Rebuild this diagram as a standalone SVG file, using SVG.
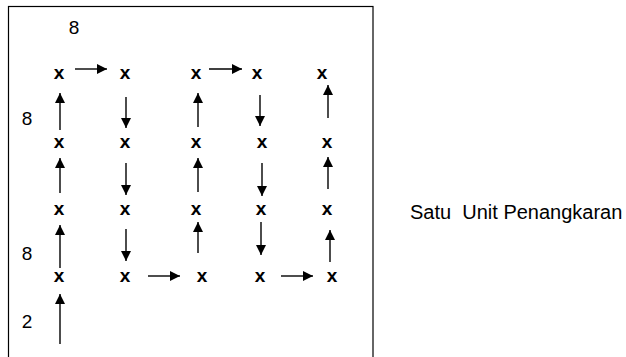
<svg xmlns="http://www.w3.org/2000/svg" width="626" height="357" viewBox="0 0 626 357">
<style>
.x{font-family:"Liberation Sans",Arial,sans-serif;font-weight:bold;font-size:19px;text-anchor:middle}
.n{font-family:"Liberation Sans",Arial,sans-serif;font-size:19px;text-anchor:middle}
.t{font-family:"Liberation Sans",Arial,sans-serif;font-size:20px;white-space:pre}
.c line{stroke:#000;stroke-width:1.4;marker-end:url(#ah)}
</style>
<defs>
<marker id="ah" viewBox="0 0 10 10" refX="10" refY="5" markerUnits="userSpaceOnUse" markerWidth="11" markerHeight="10" orient="auto">
<path d="M0,0 L10,5 L0,10 Z" fill="#000"/>
</marker>
</defs>
<rect x="8.5" y="6.5" width="364.5" height="360" fill="none" stroke="#000" stroke-width="1.2"/>
<g id="labels">
<text class="n" x="74" y="34">8</text>
<text class="n" x="27" y="125">8</text>
<text class="n" x="27" y="260">8</text>
<text class="n" x="27" y="328">2</text>
<text class="t" x="410" y="219">Satu  Unit Penangkaran</text>
</g>
<g id="nodes">
<g id="r1c1"><text class="x" x="59" y="79">x</text></g>
<g id="r1c2"><text class="x" x="125" y="79">x</text></g>
<g id="r1c3"><text class="x" x="196" y="79">x</text></g>
<g id="r1c4"><text class="x" x="257" y="79">x</text></g>
<g id="r1c5"><text class="x" x="322" y="79">x</text></g>
<g id="r2c1"><text class="x" x="59" y="148">x</text></g>
<g id="r2c2"><text class="x" x="125" y="148">x</text></g>
<g id="r2c3"><text class="x" x="196" y="148">x</text></g>
<g id="r2c4"><text class="x" x="262" y="148">x</text></g>
<g id="r2c5"><text class="x" x="327" y="148">x</text></g>
<g id="r3c1"><text class="x" x="59" y="215">x</text></g>
<g id="r3c2"><text class="x" x="125" y="215">x</text></g>
<g id="r3c3"><text class="x" x="196" y="215">x</text></g>
<g id="r3c4"><text class="x" x="261" y="215">x</text></g>
<g id="r3c5"><text class="x" x="327" y="215">x</text></g>
<g id="r4c1"><text class="x" x="59" y="282">x</text></g>
<g id="r4c2"><text class="x" x="125" y="282">x</text></g>
<g id="r4c3"><text class="x" x="202" y="282">x</text></g>
<g id="r4c4"><text class="x" x="260" y="282">x</text></g>
<g id="r4c5"><text class="x" x="332" y="282">x</text></g>
</g>
<g id="connectors" class="c">
<line x1="60" y1="344" x2="60" y2="294"/>
<line x1="60" y1="268" x2="60" y2="225"/>
<line x1="60" y1="193" x2="60" y2="158"/>
<line x1="60" y1="130" x2="60" y2="93"/>
<line x1="75" y1="69" x2="107" y2="69"/>
<line x1="126" y1="97" x2="126" y2="128"/>
<line x1="126" y1="163" x2="126" y2="195"/>
<line x1="126" y1="229" x2="126" y2="261"/>
<line x1="148" y1="276" x2="180" y2="276"/>
<line x1="198" y1="253" x2="198" y2="222"/>
<line x1="198" y1="192" x2="198" y2="158"/>
<line x1="198" y1="127" x2="198" y2="93"/>
<line x1="209" y1="69" x2="242" y2="69"/>
<line x1="260" y1="95" x2="260" y2="126"/>
<line x1="262" y1="163" x2="262" y2="196"/>
<line x1="261" y1="222" x2="261" y2="255"/>
<line x1="281" y1="276" x2="313" y2="276"/>
<line x1="330" y1="262" x2="330" y2="230"/>
<line x1="328" y1="189" x2="328" y2="157"/>
<line x1="328" y1="118" x2="328" y2="85"/>
</g>
</svg>
